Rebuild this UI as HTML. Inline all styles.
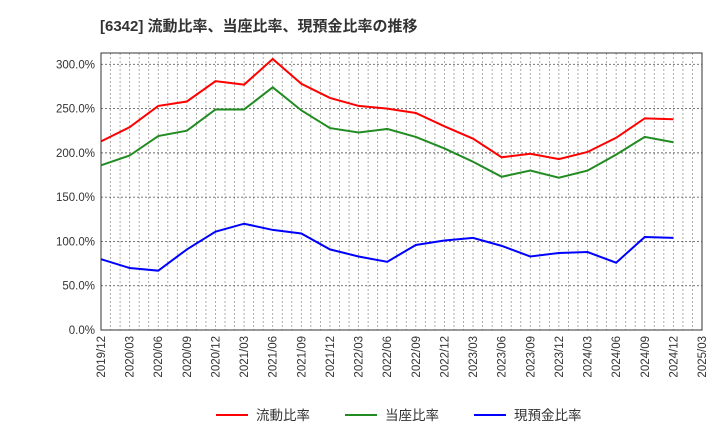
<!DOCTYPE html>
<html><head><meta charset="utf-8">
<style>
body{margin:0;background:#fff;width:720px;height:440px;overflow:hidden;font-family:"Liberation Sans","Noto Sans CJK JP",sans-serif;}
svg text{font-family:"Liberation Sans","Noto Sans CJK JP",sans-serif;}
</style></head><body>
<svg id="chart" width="720" height="440">
<text x="100" y="31" font-size="15" font-weight="bold" fill="#333">[6342]  流動比率、当座比率、現預金比率の推移</text>
<g id="grid"></g><g id="axes"></g><g id="series"></g>
<g>
<line x1="216" y1="415" x2="248" y2="415" stroke="#ff0000" stroke-width="2"/>
<text x="256" y="420" font-size="13.5" fill="#333">流動比率</text>
<line x1="345" y1="415" x2="377" y2="415" stroke="#228b22" stroke-width="2"/>
<text x="385" y="420" font-size="13.5" fill="#333">当座比率</text>
<line x1="474" y1="415" x2="506" y2="415" stroke="#0000ff" stroke-width="2"/>
<text x="514" y="420" font-size="13.5" fill="#333">現預金比率</text>
</g>
</svg>
<script>
const categories=["2019/12","2020/03","2020/06","2020/09","2020/12","2021/03","2021/06","2021/09","2021/12","2022/03","2022/06","2022/09","2022/12","2023/03","2023/06","2023/09","2023/12","2024/03","2024/06","2024/09","2024/12","2025/03"];
const currentRatio=[213,229,253,258,281,277,306,278,262,253,250,245,230,216,195,199,193,201,217,239,238];
const quickRatio=[186,197,219,225,249,249,274,248,228,223,227,218,205,190,173,180,172,180,198,218,212];
const cashRatio=[80,70,67,91,111,120,113,109,91,83,77,96,101,104,95,83,87,88,76,105,104];
const yTicks=[0,50,100,150,200,250,300];
const L=101,R=702,T=53,B=330;
const xs=i=>L+i*(R-L)/(categories.length-1);
const ys=v=>B-v*(B-64.3)/300;
const NS="http://www.w3.org/2000/svg";
function mk(tag,attrs,parent){const e=document.createElementNS(NS,tag);for(const k in attrs)e.setAttribute(k,attrs[k]);parent.appendChild(e);return e;}
const grid=document.getElementById('grid'),axes=document.getElementById('axes'),ser=document.getElementById('series');
for(let m=0;m<=63;m++){const x=L+m*(R-L)/63;const g=mk('line',{x1:x,x2:x,y1:T,y2:B,stroke:'#999','stroke-dasharray':'2,2','stroke-width':0.8},grid);

}
yTicks.forEach(v=>{const y=ys(v);const g=mk('line',{x1:L,x2:R,y1:y,y2:y,stroke:'#666','stroke-dasharray':'2,2','stroke-width':0.9},grid);


const t=mk('text',{x:L-6,y:y+4,'text-anchor':'end','font-size':11.5,fill:'#333'},axes);t.textContent=v.toFixed(1)+'%';

});
categories.forEach((c,i)=>{const x=xs(i);const t=mk('text',{x:0,y:0,'text-anchor':'end','font-size':11.5,fill:'#333',transform:`translate(${x+4},${B+6}) rotate(-90)`},axes);t.textContent=c;

});
const frame=mk('rect',{x:L,y:T,width:R-L,height:B-T,fill:'none',stroke:'#333','stroke-width':1},axes);


[[currentRatio,'#ff0000','current-ratio-line'],[quickRatio,'#228b22','quick-ratio-line'],[cashRatio,'#0000ff','cash-ratio-line']].forEach(([d,col,n])=>{
const p=mk('polyline',{points:d.map((v,i)=>xs(i)+','+ys(v)).join(' '),fill:'none',stroke:col,'stroke-width':2},ser);

});
</script>
</body></html>
